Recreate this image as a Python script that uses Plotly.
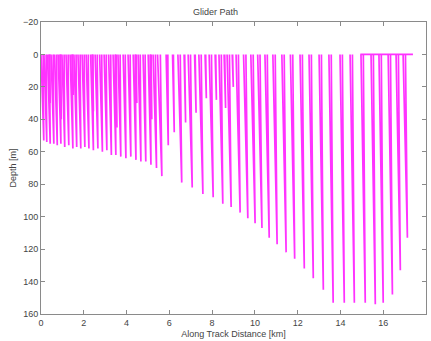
import plotly.graph_objects as go

# One entry per profile (dive): along-track distance where it leaves the surface,
# where it reaches its deepest point, where it is back at the surface, and max depth.
prof_start_km = [0.00, 0.14, 0.30, 0.37, 0.47, 0.63, 0.80, 0.89, 0.98, 1.17,
                 1.36, 1.45, 1.54, 1.73, 1.92, 2.11, 2.32, 2.39, 2.53, 2.74,
                 2.95, 3.16, 3.37, 3.49, 3.60, 3.84, 4.07, 4.31, 4.42, 4.54,
                 4.77, 5.01, 5.12, 5.24, 5.45, 5.85, 6.15, 6.40, 6.69, 6.88,
                 7.18, 7.38, 7.67, 7.86, 8.14, 8.32, 8.56, 8.70, 8.94, 9.12,
                 9.47, 9.81, 10.13, 10.47, 10.84, 11.26, 11.66, 12.11, 12.53, 13.00,
                 13.46, 13.98, 14.45, 14.96, 15.43, 15.80, 16.23, 16.60, 16.93]
prof_bottom_km = [0.13, 0.27, 0.43, 0.43, 0.60, 0.76, 0.93, 0.95, 1.11, 1.30,
                  1.49, 1.51, 1.67, 1.86, 2.05, 2.24, 2.45, 2.45, 2.66, 2.87,
                  3.08, 3.29, 3.50, 3.55, 3.73, 3.97, 4.20, 4.44, 4.48, 4.67,
                  4.90, 5.14, 5.18, 5.40, 5.65, 5.95, 6.23, 6.58, 6.76, 7.07,
                  7.25, 7.57, 7.73, 8.05, 8.20, 8.50, 8.63, 8.89, 8.99, 9.31,
                  9.67, 10.01, 10.33, 10.67, 11.04, 11.46, 11.86, 12.31, 12.73, 13.20,
                  13.66, 14.18, 14.65, 15.16, 15.63, 16.00, 16.43, 16.80, 17.13]
prof_end_km = [0.10, 0.24, 0.40, 0.40, 0.57, 0.73, 0.90, 0.92, 1.08, 1.27,
               1.46, 1.48, 1.64, 1.83, 2.02, 2.21, 2.42, 2.42, 2.63, 2.84,
               3.05, 3.26, 3.47, 3.52, 3.70, 3.94, 4.17, 4.41, 4.45, 4.64,
               4.87, 5.11, 5.15, 5.35, 5.58, 5.93, 6.19, 6.51, 6.72, 6.99,
               7.21, 7.49, 7.70, 7.97, 8.17, 8.43, 8.59, 8.81, 8.96, 9.23,
               9.58, 9.92, 10.24, 10.58, 10.95, 11.37, 11.77, 12.22, 12.64, 13.11,
               13.57, 14.09, 14.56, 15.07, 15.54, 15.91, 16.34, 16.71, 17.04]
prof_depth_m = [53, 54, 55, 30, 55, 56, 55, 40, 57, 56,
                58, 25, 57, 58, 57, 58, 59, 35, 58, 60,
                59, 62, 62, 45, 63, 64, 63, 65, 30, 66,
                66, 68, 40, 70, 75, 56, 48, 79, 42, 82,
                36, 86, 27, 88, 28, 92, 33, 94, 20, 97.5,
                101, 104, 107, 113, 117, 122, 126, 132, 138, 145,
                153, 153, 153, 153, 154, 153, 148, 133, 113]

# Surface drift at the end of the mission
surface_km = [14.93, 17.39]
surface_depth_m = [0, 0]

x_ticks = [0, 2, 4, 6, 8, 10, 12, 14, 16, 18]
y_ticks = [-20, 0, 20, 40, 60, 80, 100, 120, 140, 160]

xs, ys = [], []
for s, b, e, d in zip(prof_start_km, prof_bottom_km, prof_end_km, prof_depth_m):
    xs += [s, b, e, None]
    ys += [0, d, 0, None]
xs += surface_km
ys += surface_depth_m

fig = go.Figure()
fig.add_trace(go.Scatter(
    x=xs, y=ys, mode="lines", connectgaps=False,
    line=dict(color="#ff33ff", width=1.7),
    showlegend=False, hoverinfo="skip",
))

font = dict(family="Liberation Sans, Arial, sans-serif", size=9, color="#444444")
axis_common = dict(
    showline=True, linecolor="#8a8a8a", linewidth=1,
    mirror="ticks", ticks="inside", ticklen=4, tickcolor="#8a8a8a",
    showgrid=False, zeroline=False, tickfont=font,
)

fig.update_layout(
    width=431, height=341,
    margin=dict(l=41, r=5, t=22, b=27),
    paper_bgcolor="white", plot_bgcolor="white",
    title=dict(text="Glider Path", x=0.5, xanchor="center", y=0.965, yanchor="middle", font=font),
    xaxis=dict(range=[0, 18], tickvals=x_ticks,
               title=dict(text="Along Track Distance [km]", standoff=3, font=font),
               **axis_common),
    yaxis=dict(range=[160, -20], tickvals=y_ticks,
               title=dict(text="Depth [m]", standoff=4, font=font),
               **axis_common),
)

fig.write_html("out.html")
